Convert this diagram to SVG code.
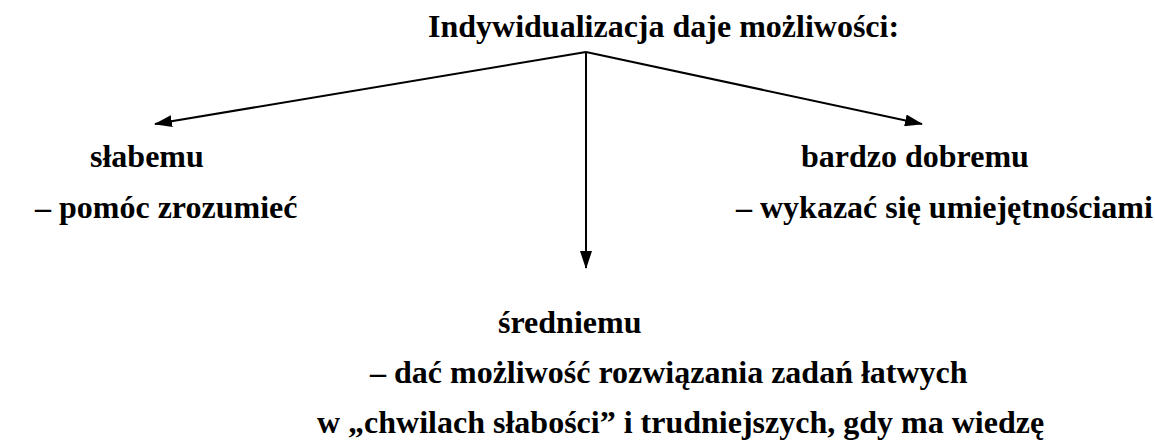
<svg xmlns="http://www.w3.org/2000/svg" width="1155" height="448" viewBox="0 0 1155 448">
  <style>
    .t { font-weight: 700; font-size: 32px; fill: #000; }
    .link { stroke: #000; stroke-width: 2; fill: none; }
  </style>
  <defs>
    <marker id="arrow" viewBox="0 0 18 12" refX="17" refY="6" markerWidth="18" markerHeight="12" markerUnits="userSpaceOnUse" orient="auto">
      <path d="M0,0 L18,6 L0,12 Z" fill="#000"/>
    </marker>
  </defs>
  <rect width="1155" height="448" fill="#fff"/>

  <g id="connectors">
    <line class="link" x1="586" y1="52" x2="155" y2="124" marker-end="url(#arrow)"/>
    <line class="link" x1="586" y1="52" x2="922" y2="124" marker-end="url(#arrow)"/>
    <line class="link" x1="586" y1="52" x2="586" y2="268" marker-end="url(#arrow)"/>
  </g>

  <g font-family="Liberation Serif, Times New Roman, serif">
    <g id="root">
      <text class="t" x="428" y="37">Indywidualizacja daje możliwości:</text>
    </g>

    <g id="weak">
      <text class="t" x="90" y="167">słabemu</text>
      <text class="t" x="35" y="218">– pomóc zrozumieć</text>
    </g>

    <g id="strong">
      <text class="t" x="801" y="167">bardzo dobremu</text>
      <text class="t" x="736" y="218">– wykazać się umiejętnościami</text>
    </g>

    <g id="average">
      <text class="t" x="498" y="333">średniemu</text>
      <text class="t" x="370" y="383">– dać możliwość rozwiązania zadań łatwych</text>
      <text class="t" x="317" y="433">w „chwilach słabości” i trudniejszych, gdy ma wiedzę</text>
    </g>
  </g>
</svg>
